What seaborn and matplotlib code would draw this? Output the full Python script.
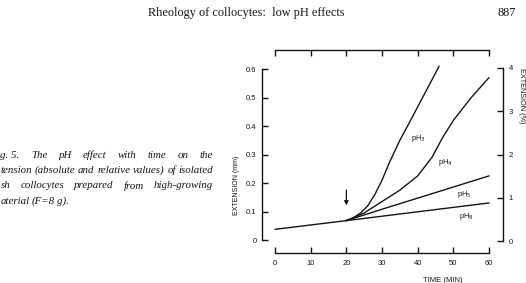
import matplotlib
matplotlib.use("Agg")
import matplotlib.pyplot as plt
import seaborn as sns
import pandas as pd

# extension (mm), time in min
base_time = [0, 20]
base_ext = [0.0375, 0.068]
ph3_time = [20, 22, 24, 26, 28, 30, 32, 35, 38, 42, 46]
ph3_ext = [0.068, 0.078, 0.095, 0.12, 0.16, 0.21, 0.27, 0.35, 0.42, 0.515, 0.61]
ph4_time = [20, 25, 30, 35, 40, 44, 47, 50, 55, 60]
ph4_ext = [0.068, 0.095, 0.135, 0.175, 0.225, 0.29, 0.36, 0.42, 0.5, 0.57]
ph5_time = [20, 30, 40, 50, 60]
ph5_ext = [0.068, 0.108, 0.147, 0.186, 0.225]
ph8_time = [20, 40, 60]
ph8_ext = [0.068, 0.099, 0.13]

series_names = ["base", "pH3", "pH4", "pH5", "pH8"]
curve_labels = ["pH$_3$", "pH$_4$", "pH$_5$", "pH$_8$"]

x_ticks = [0, 10, 20, 30, 40, 50, 60]
left_ticks = [0, 0.1, 0.2, 0.3, 0.4, 0.5, 0.6]
left_tick_labels = ["0", "0.1", "0.2", "0.3", "0.4", "0.5", "0.6"]
right_ticks = [0, 1, 2, 3, 4]

header = "Rheology of collocytes:  low pH effects"
page_no = "887"
caption_lines = [
    ["g. 5.", "The", "pH", "effect", "with", "time", "on", "the"],
    ["tension", "(absolute", "and", "relative", "values)", "of", "isolated"],
    ["sh", "collocytes", "prepared", "from", "high-growing"],
    ["aterial", "(F=8", "g)."],
]

frames = []
for name, t, v in zip(series_names,
                      [base_time, ph3_time, ph4_time, ph5_time, ph8_time],
                      [base_ext, ph3_ext, ph4_ext, ph5_ext, ph8_ext]):
    frames.append(pd.DataFrame({"series": name, "time": t, "ext": v}))
df = pd.concat(frames, ignore_index=True)

W, H = 526, 283


def fx(px):
    return px / W


def fy(py):
    return 1 - py / H


sns.set_theme(style="ticks")
plt.rcParams["font.family"] = ["Liberation Sans", "DejaVu Sans"]
ink = "#151515"

fig = plt.figure(figsize=(W / 100, H / 100), dpi=100)
ax = fig.add_axes([fx(262), fy(253), fx(503) - fx(262), fy(50) - fy(253)])

sns.lineplot(data=df, x="time", y="ext", units="series", estimator=None,
             sort=False, color=ink, lw=1.0, ax=ax, legend=False)

ax.set_xlim(-3.64, 63.9)
ax.set_ylim(-0.0456, 0.6667)
ax.set_xticks(x_ticks)
ax.set_xticklabels([str(t) for t in x_ticks])
ax.set_yticks(left_ticks)
ax.set_yticklabels(left_tick_labels)
ax.set_xlabel("")
ax.set_ylabel("")
ax.tick_params(axis="x", direction="in", top=True, bottom=True, length=4,
               width=1, pad=5, labelsize=5.5, colors=ink)
ax.tick_params(axis="y", direction="in", length=4, width=1, pad=4,
               labelsize=5.5, colors=ink)
ax.spines["right"].set_visible(False)
ax.spines["left"].set_bounds(0, 0.6)
ax.spines["bottom"].set_bounds(0, 60)
ax.spines["top"].set_bounds(0, 60)
for s in ["left", "bottom", "top"]:
    ax.spines[s].set_linewidth(1.0)
    ax.spines[s].set_color(ink)

ax2 = ax.twinx()
ax2.set_ylim(-0.277, 4.416)
ax2.set_yticks(right_ticks)
ax2.set_yticklabels([str(t) for t in right_ticks])
ax2.tick_params(axis="y", direction="in", length=4, width=1, pad=4,
                labelsize=5.5, colors=ink)
for s in ["left", "bottom", "top"]:
    ax2.spines[s].set_visible(False)
ax2.spines["right"].set_bounds(0, 4)
ax2.spines["right"].set_linewidth(1.0)
ax2.spines["right"].set_color(ink)

# curve labels and the arrow marking the pH change
for lab, (tx, ty) in zip(curve_labels, [(40.2, 0.357), (47.8, 0.271),
                                        (53.0, 0.16), (53.7, 0.082)]):
    ax.text(tx, ty, lab, fontsize=5.5, color=ink, ha="center", va="center")
ax.annotate("", xy=(20, 0.112), xytext=(20, 0.185),
            arrowprops=dict(arrowstyle="-|>", color=ink, lw=0.9,
                            mutation_scale=6))

fig.text(fx(236), fy(185), "EXTENSION (mm)", rotation=90, fontsize=5,
         ha="center", va="center", color=ink)
fig.text(fx(521), fy(96), "EXTENSION (%)", rotation=270, fontsize=5.2,
         ha="center", va="center", color=ink)
fig.text(fx(443), fy(280), "TIME (MIN)", fontsize=5.5, ha="center",
         va="center", color=ink)

fig.text(fx(246), fy(13), header, fontsize=8.8, family="Liberation Serif",
         ha="center", va="center", color=ink)
fig.text(fx(507), fy(13), page_no, fontsize=8.8, family="Liberation Serif",
         ha="center", va="center", color=ink)

# justified italic caption, cut at the left edge as in the scan
renderer = fig.canvas.get_renderer()
x0, x1 = 0.5, 213
probe = fig.text(0, 0, " ".join(caption_lines[1]), fontsize=10,
                 family="Liberation Serif", style="italic")
cap_size = 10 * (x1 - x0) / probe.get_window_extent(renderer).width
probe.remove()
for i, words in enumerate(caption_lines):
    y = fy(155 + i * 15.5)
    texts = [fig.text(0, y, w, fontsize=cap_size, family="Liberation Serif",
                      style="italic", va="center", color=ink) for w in words]
    widths = [t.get_window_extent(renderer).width for t in texts]
    if i < len(caption_lines) - 1:
        gap = (x1 - x0 - sum(widths)) / (len(words) - 1)
    else:
        gap = cap_size * 0.3
    x = x0
    for t, w in zip(texts, widths):
        t.set_x(fx(x))
        x += w + gap

fig.savefig("out.png", dpi=100)
